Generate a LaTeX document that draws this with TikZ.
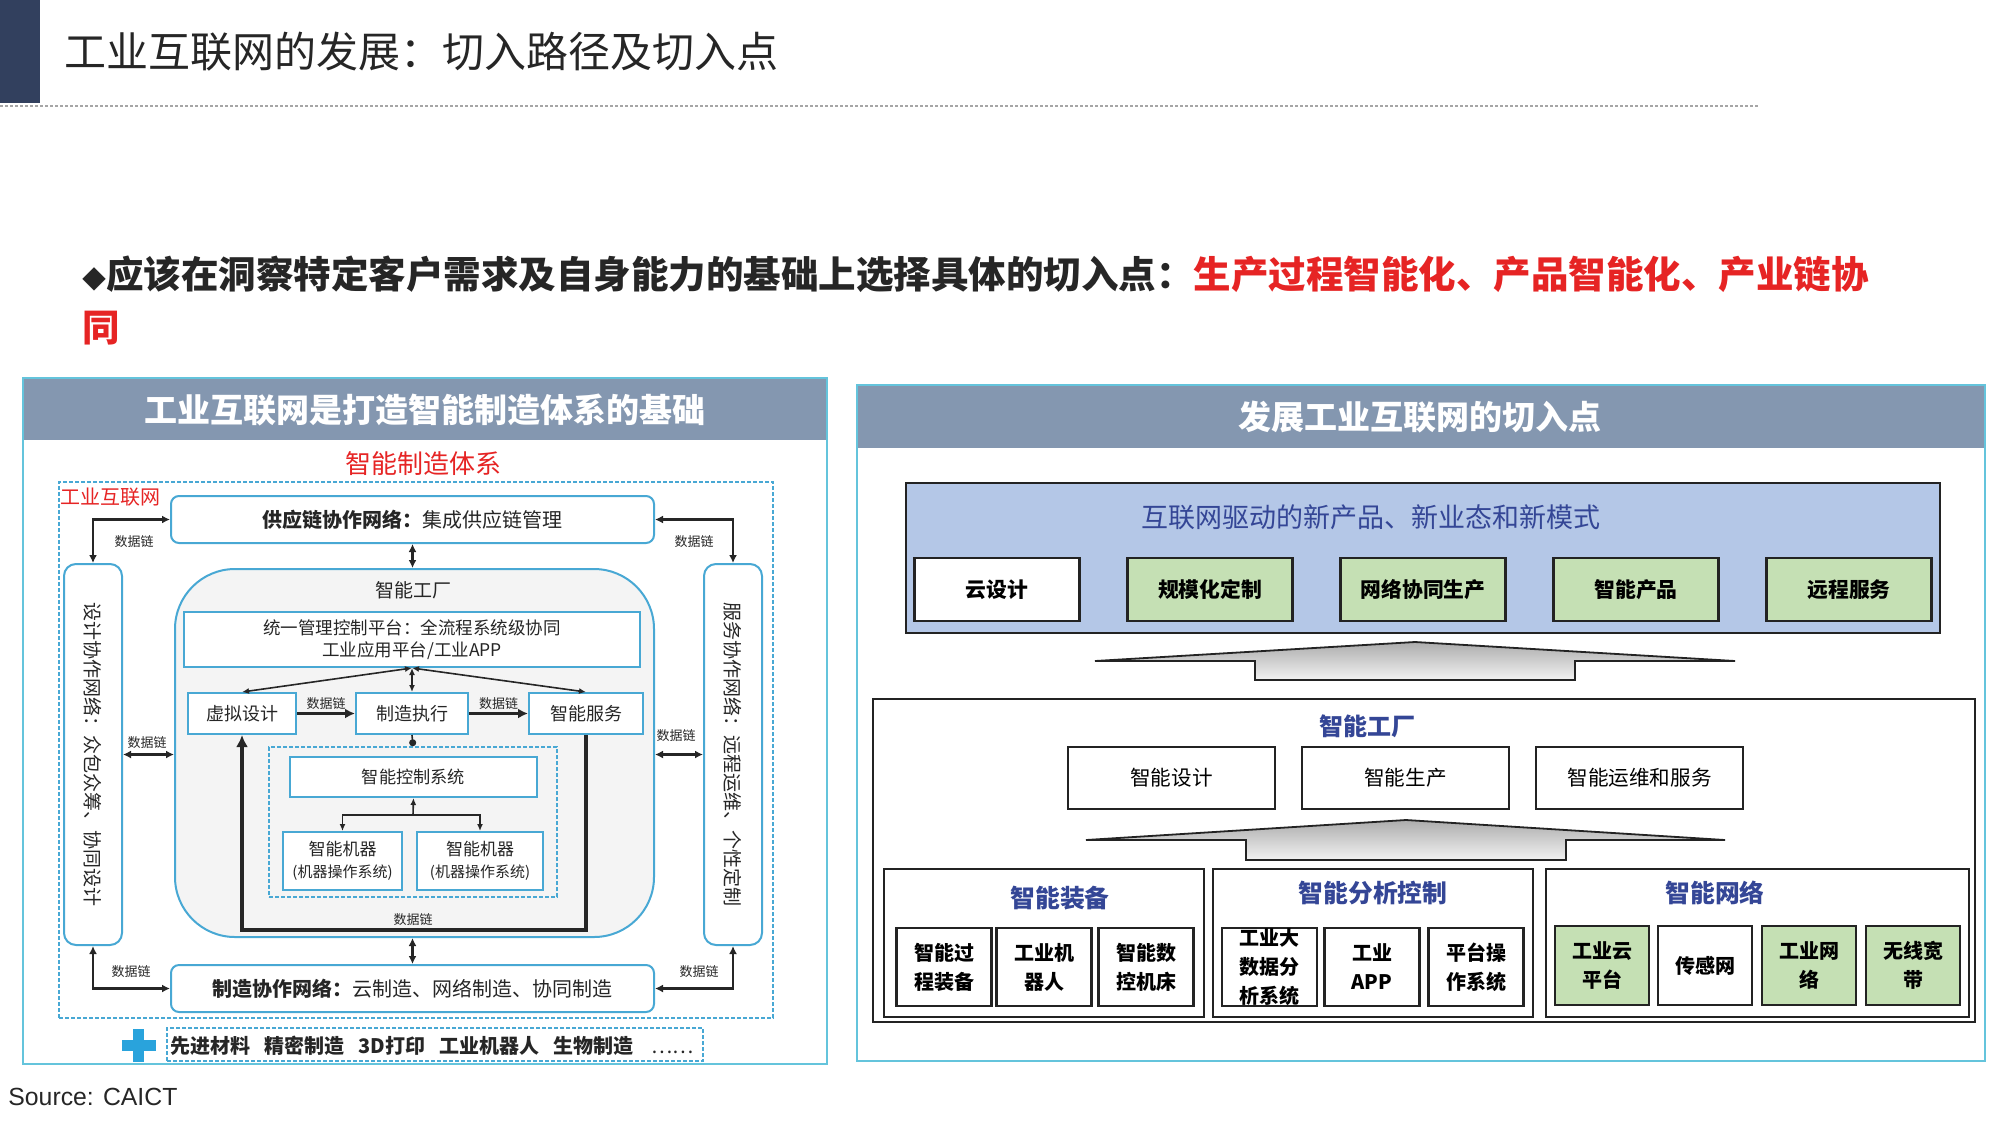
\documentclass[tikz,border=0pt]{standalone}
\usepackage{fontspec}
\setmainfont{Noto Sans CJK SC}
\newfontfamily\srcfont{Liberation Sans}
\usetikzlibrary{arrows.meta,positioning}
\newcommand{\fs}[2]{\fontsize{#1}{#2}\selectfont}
\definecolor{navy}{RGB}{50,64,94}
\definecolor{hdband}{RGB}{132,151,176}
\definecolor{panelcyan}{RGB}{100,196,220}
\definecolor{boxcyan}{RGB}{72,168,212}
\definecolor{pluscyan}{RGB}{41,163,220}
\definecolor{sysred}{RGB}{230,36,36}
\definecolor{darkblue}{RGB}{52,70,150}
\definecolor{topblue}{RGB}{180,199,231}
\definecolor{leaf}{RGB}{197,224,180}
\definecolor{edge}{RGB}{35,35,35}
\definecolor{ink}{RGB}{38,38,38}

\begin{document}
\begin{tikzpicture}[x=0.5pt, y=-0.5pt,
  sz/.style 2 args={minimum width=#1*0.5pt, minimum height=#2*0.5pt},
  head/.style={text=white, font=\fs{16.5}{20}\bfseries},
  cbox/.style={draw=boxcyan, line width=1pt, fill=white, inner sep=0pt, align=center, text=ink},
  rbox/.style={cbox, rounded corners=4pt, font=\fs{10}{12}},
  dbox/.style={draw=boxcyan, line width=0.8pt, dash pattern=on 2pt off 1pt},
  vtxt/.style={rotate=-90, font=\fs{9.5}{11}, text=ink},
  lnk/.style={{Latex[length=4pt,width=4pt]}-{Latex[length=4pt,width=4pt]}, line width=1.3pt, ink},
  hub/.style={{Latex[length=3.5pt,width=3pt]}-{Latex[length=3.5pt,width=3pt]}, line width=0.8pt, ink},
  arrT/.style={-{Latex[length=3.5pt,width=3pt]}, line width=0.8pt, ink},
  dl/.style={-{Latex[length=5pt,width=5pt]}, line width=1.6pt, ink},
  dlab/.style={font=\fs{6.5}{7}, inner sep=1pt, text=ink},
  kbox/.style={draw=edge, line width=1.1pt, inner sep=0pt, align=center},
  grn/.style={kbox, fill=leaf},
  sbt/.style={font=\fs{10}{14.5}\bfseries},
  grp/.style={text=darkblue, font=\fs{12.4}{14}\bfseries},
  blk/.style={draw=edge, line width=0.9pt, top color=gray!65, bottom color=gray!10}]
  \fill[white] (0,0) rectangle (2000,1125);
  \useasboundingbox (0,0) rectangle (2000,1125);
  % page heading
  \fill[navy] (0,0) rectangle (40,103);
  \node[anchor=west, inner sep=0pt, text=ink, font=\fs{21}{24}] (title) at (64,52) {工业互联网的发展：切入路径及切入点};
  \draw[gray!70, line width=0.6pt, dash pattern=on 1.5pt off 1pt] (0,106) -- (1760,106);
  \node[anchor=west, inner sep=0pt, align=left, text=ink, font=\fs{18.75}{26.5}\bfseries] (lead) at (82,300)
    {{\fs{12}{12}◆}应该在洞察特定客户需求及自身能力的基础上选择具体的切入点：\textcolor{sysred}{生产过程智能化、产品智能化、产业链协}\\\textcolor{sysred}{同}};

  % left panel
  \fill[hdband] (23,378) rectangle (827,440);
  \draw[panelcyan, line width=1pt] (23,378) rectangle (827,1064);
  \node[head] (lhead) at (425,410) {工业互联网是打造智能制造体系的基础};
  \node[text=sysred, font=\fs{13}{15}] (lsys) at (423,464) {智能制造体系};
  \node[dbox, sz={714}{536}] (iinet) at (416,750) {};
  \node[anchor=west, inner sep=0pt, text=sysred, font=\fs{10}{12}] (iinettxt) at (60,497) {工业互联网};
  \node[rbox, sz={483}{47}] (supply) at (412.5,519.5) {{\bfseries 供应链协作网络：}集成供应链管理};
  \node[rbox, sz={483}{47}] (mfg) at (412.5,988.5) {{\bfseries 制造协作网络：}云制造、网络制造、协同制造};
  \node[rbox, sz={58}{381}, rounded corners=6pt] (lbar) at (93,754.5) {};
  \node[rbox, sz={58}{381}, rounded corners=6pt] (rbar) at (733,754.5) {};
  \node[vtxt] (ltxt) at (lbar) {设计协作网络：众包众筹、协同设计};
  \node[vtxt] (rtxt) at (rbar) {服务协作网络：远程运维、个性定制};
  % smart factory
  \node[cbox, fill=gray!9, sz={479}{368}, rounded corners=30pt] (fac) at (414.5,753) {};
  \node[font=\fs{9.5}{11}, text=ink] (factxt) at (413,590) {智能工厂};
  \node[cbox, sz={456}{55}, font=\fs{8.75}{11}] (plat) at (412,639.5) {统一管理控制平台：全流程系统级协同\\工业应用平台/工业APP};
  \node[cbox, sz={108}{41}, font=\fs{9}{11}] (vd) at (242,713.5) {虚拟设计};
  \node[cbox, sz={112}{41}, font=\fs{9}{11}] (me) at (412,713.5) {制造执行};
  \node[cbox, sz={114}{41}, font=\fs{9}{11}] (ss) at (586,713.5) {智能服务};
  \node[dbox, sz={288}{150}] (czone) at (413,822) {};
  \node[cbox, sz={247}{40}, font=\fs{8.6}{11}] (ctrl) at (413.5,777) {智能控制系统};
  \node[cbox, sz={119}{58}, font=\fs{8.5}{11}] (m1) at (342.5,861) {智能机器\\{\fs{7.5}{9}(机器操作系统)}};
  \node[cbox, sz={126}{58}, font=\fs{8.5}{11}] (m2) at (480,861) {智能机器\\{\fs{7.5}{9}(机器操作系统)}};
  \coordinate (jn) at (413,815);
  \coordinate (lp) at (413,930);
  % data links
  \draw[lnk] (supply.west) -| (lbar.north);
  \draw[lnk] (supply.east) -| (rbar.north);
  \draw[lnk] (lbar.south) |- (mfg.west);
  \draw[lnk] (rbar.south) |- (mfg.east);
  \draw[lnk] (lbar.east) -- (lbar.east -| fac.west);
  \draw[lnk] (rbar.west) -- (rbar.west -| fac.east);
  \draw[lnk] (supply.south) -- (supply.south |- fac.north);
  \draw[lnk] (mfg.north) -- (mfg.north |- fac.south);
  \node[dlab] (dl1) at (134,542) {数据链};
  \node[dlab] (dl2) at (694,542) {数据链};
  \node[dlab] (dl3) at (147,743) {数据链};
  \node[dlab] (dl4) at (676,736) {数据链};
  \node[dlab] (dl5) at (131,972) {数据链};
  \node[dlab] (dl6) at (699,972) {数据链};
  \draw[hub] (plat.south) -- (vd.north);
  \draw[hub] (plat.south) -- (me.north);
  \draw[hub] (plat.south) -- (ss.north);
  \draw[dl] (vd.east) -- node[dlab, above] (dl7) {数据链} (me.west);
  \draw[dl] (me.east) -- node[dlab, above] (dl8) {数据链} (ss.west);
  \draw[-{Latex[length=6pt,width=6pt]}, line width=2pt, ink] (ss.south) |- (lp) -| (vd.south);
  \node[dlab, above=1pt] (dl9) at (lp) {数据链};
  \draw[-{Circle[length=3.5pt]}, line width=0.8pt, ink] (me.south) -- (czone.north);
  \draw[arrT] (jn) -- (ctrl.south);
  \draw[arrT] (jn) -| (m1.north);
  \draw[arrT] (jn) -| (m2.north);
  % enabling technologies
  \node[dbox, sz={536}{33}] (strip) at (435,1044.5) {};
  \fill[pluscyan] (122,1040) rectangle (156,1051);
  \fill[pluscyan] (133,1029) rectangle (144,1062);
  \node[anchor=west, inner sep=0pt, text=ink, font=\fs{10}{12}\bfseries] (tech) at (170,1046)
    {先进材料\hspace{7pt}精密制造\hspace{7pt}3D打印\hspace{7pt}工业机器人\hspace{7pt}生物制造\hspace{9pt}{\mdseries ……}};
  \node[anchor=west, inner sep=0pt, text=ink, font=\srcfont\fs{12.4}{14}] (src) at (8,1097) {Source: CAICT};

  % right panel
  \fill[hdband] (857,385) rectangle (1985,448);
  \draw[panelcyan, line width=1pt] (857,385) rectangle (1985,1061);
  \node[head] (rhead) at (1420,417) {发展工业互联网的切入点};
  \node[kbox, fill=topblue, sz={1034}{150}, line width=1.3pt] (newmode) at (1423,558) {};
  \node[text=darkblue, font=\fs{13.5}{16}] (newtxt) at (1371,517) {互联网驱动的新产品、新业态和新模式};
  \foreach \t [count=\k] in {云设计,规模化定制,网络协同生产,智能产品,远程服务}{
    \ifnum\k=1 \node[kbox, fill=white, sz={165}{63}, font=\fs{10.4}{12}\bfseries] (pt\k) at ({997+213*(\k-1)},589.5) {\t};
    \else      \node[grn, sz={165}{63}, font=\fs{10.4}{12}\bfseries] (pt\k) at ({997+213*(\k-1)},589.5) {\t};\fi}
  \draw[blk] (1095,661) -- (1415,642) -- (1735,661) -- (1575,661) -- (1575,680) -- (1255,680) -- (1255,661) -- cycle;
  % smart factory layer
  \node[kbox, sz={1102}{323}, line width=1pt] (sfac) at (1424,860.5) {};
  \node[grp, font=\fs{12}{14}\bfseries] (sfactxt) at (1367,726) {智能工厂};
  \foreach \t [count=\k] in {智能设计,智能生产,智能运维和服务}
    \node[kbox, fill=white, sz={207}{62}, font=\fs{10.3}{12}] (fb\k) at ({1171.5+234*(\k-1)},778) {\t};
  \draw[blk] (1086,840) -- (1406,820) -- (1725,840) -- (1566,840) -- (1566,860) -- (1246,860) -- (1246,840) -- cycle;
  \node[kbox, sz={320}{148}] (g1) at (1044,943) {};
  \node[kbox, sz={320}{148}] (g2) at (1373,943) {};
  \node[kbox, sz={423}{148}] (g3) at (1757.5,943) {};
  \node[grp] (g1t) at (1060,898) {智能装备};
  \node[grp] (g2t) at (1373,893) {智能分析控制};
  \node[grp] (g3t) at (1715,893) {智能网络};
  \foreach \t/\cx [count=\k] in {智能过\\程装备/944, 工业机\\器人/1044, 智能数\\控机床/1146}
    \node[kbox, fill=white, sz={95}{78}, sbt] (eq\k) at (\cx,967) {\t};
  \foreach \t/\cx [count=\k] in {工业大\\数据分\\析系统/1269.5, 工业\\APP/1372, 平台操\\作系统/1476}
    \node[kbox, fill=white, sz={95}{78}, sbt] (an\k) at (\cx,967) {\t};
  \foreach \t/\cx/\f [count=\k] in {工业云\\平台/1602/leaf, 传感网/1705/white, 工业网\\络/1809/leaf, 无线宽\\带/1913/leaf}
    \node[kbox, fill=\f, sz={94}{79}, sbt] (nw\k) at (\cx,965.5) {\t};
\end{tikzpicture}
\end{document}
